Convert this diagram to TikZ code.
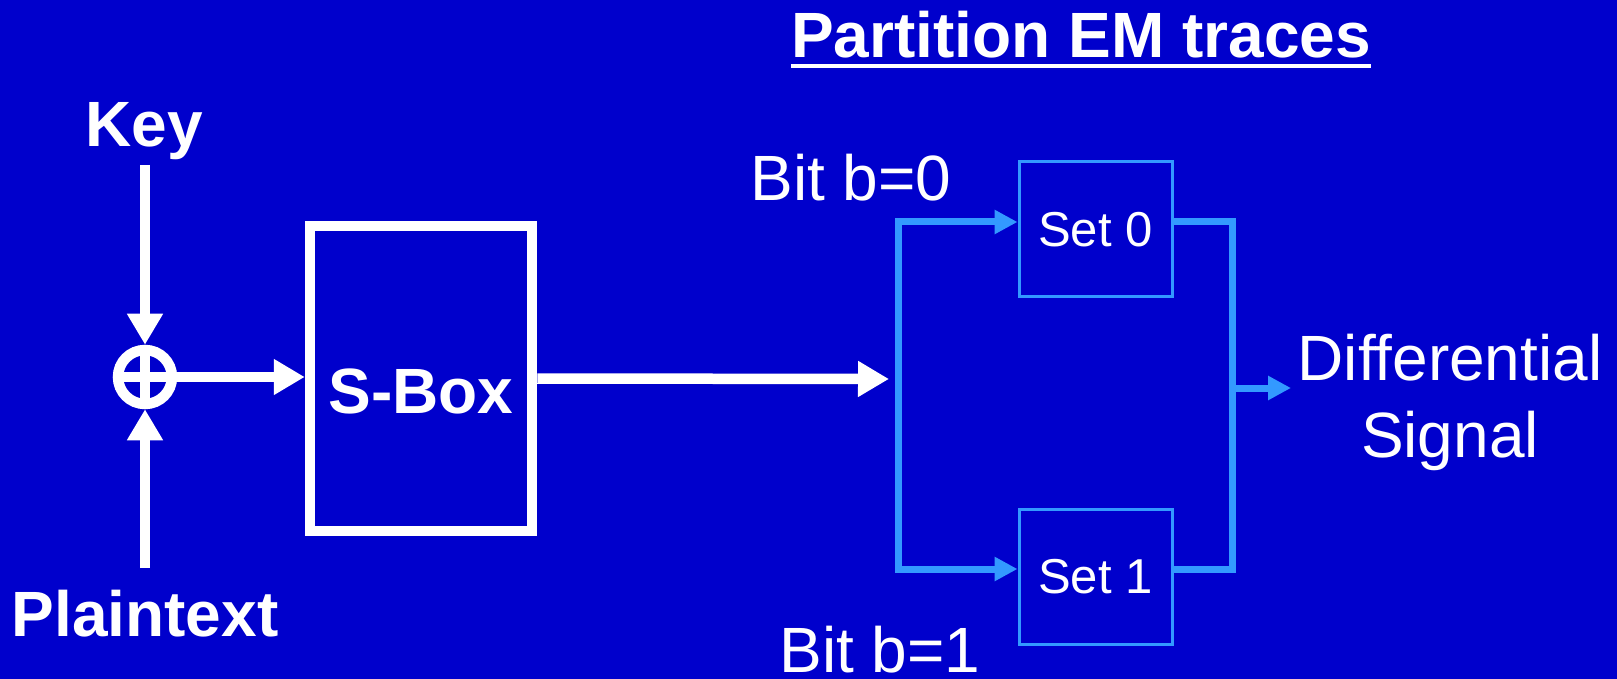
\documentclass[tikz,border=0pt]{standalone}
\usepackage{fontspec}
\setmainfont{Liberation Sans}
\usetikzlibrary{arrows.meta}
\definecolor{slideblue}{RGB}{0,0,204}
\definecolor{buscol}{RGB}{51,153,255}
\begin{document}
\begin{tikzpicture}[x=0.5pt,y=-0.5pt,
  wline/.style={draw=white,line width=5.25pt},
  warrow/.style={wline,-{Triangle[length=15.5pt,width=17pt]}},
  busline/.style={draw=buscol,line width=3.5pt},
  btip/.tip={Triangle[length=11.5pt,width=11.5pt]},
  bigbold/.style={text=white,inner sep=0pt,font=\fontsize{32pt}{38pt}\selectfont\bfseries},
  bigreg/.style={text=white,inner sep=0pt,font=\fontsize{32pt}{38pt}\selectfont},
  setbox/.style={draw=buscol,line width=1.5pt,minimum width=76.5pt,minimum height=67.5pt,
    inner sep=0pt,text=white,font=\fontsize{24.5pt}{28pt}\selectfont}]
  % canvas
  \useasboundingbox (0,0) rectangle (1617,679);
  \fill[slideblue] (0,0) rectangle (1617,679);

  % title
  \node[bigbold,anchor=base] (title) at (1081,58) {Partition EM traces};
  \draw[white,line width=2.25pt] ([yshift=-4pt]title.base west) -- ([yshift=-4pt]title.base east);

  % key mixing
  \node[bigbold,anchor=base] (key) at (144,147) {Key};
  \node[bigbold,anchor=base] (plain) at (145,636) {Plaintext};
  \node[circle,draw=white,line width=5.25pt,minimum size=27pt,inner sep=0pt] (xor) at (145,377) {};
  \draw[wline] (xor.north) -- (xor.south) (xor.west) -- (xor.east);
  \coordinate (keyend) at (145,165);
  \coordinate (plainend) at (145,568);
  \draw[warrow] (keyend) -- (xor.north);
  \draw[warrow] (plainend) -- (xor.south);

  % substitution box
  \node[draw=white,line width=5.25pt,minimum width=111pt,minimum height=152.5pt,inner sep=0pt] (sbox) at (421,378.5) {};
  \node[bigbold,anchor=base] (sboxlbl) at (421,413) {S-Box};
  \draw[warrow] (xor.east) -- (xor.east -| sbox.west);
  \coordinate (split) at (889,379);
  \draw[warrow] (sbox.east) -- (split);

  % partition into two sets
  \node[setbox] (set0) at (1095.5,229.5) {Set 0};
  \node[setbox] (set1) at (1095.5,576.5) {Set 1};
  \node[bigreg,anchor=base west] (b0) at (750,201) {Bit b=0};
  \node[bigreg,anchor=base west] (b1) at (779,672) {Bit b=1};
  \coordinate (lt) at (898,222);
  \coordinate (lb) at (898,569);
  \coordinate (rt) at (1232,222);
  \coordinate (rb) at (1232,569);
  \draw[busline,{btip}-{btip}] (lt -| set0.west) -- (lt) -- (lb) -- (lb -| set1.west);
  \draw[busline] (rt -| set0.east) -- (rt) -- (rb) -- (rb -| set1.east);

  % output
  \node[bigreg,anchor=base] (diff) at (1450,380) {Differential};
  \node[bigreg,anchor=base] (sig) at (1450,457) {Signal};
  \coordinate (rm) at (1232,388);
  \coordinate (outend) at (1291,388);
  \draw[busline,-{btip}] (rm) -- (outend);
\end{tikzpicture}
\end{document}
